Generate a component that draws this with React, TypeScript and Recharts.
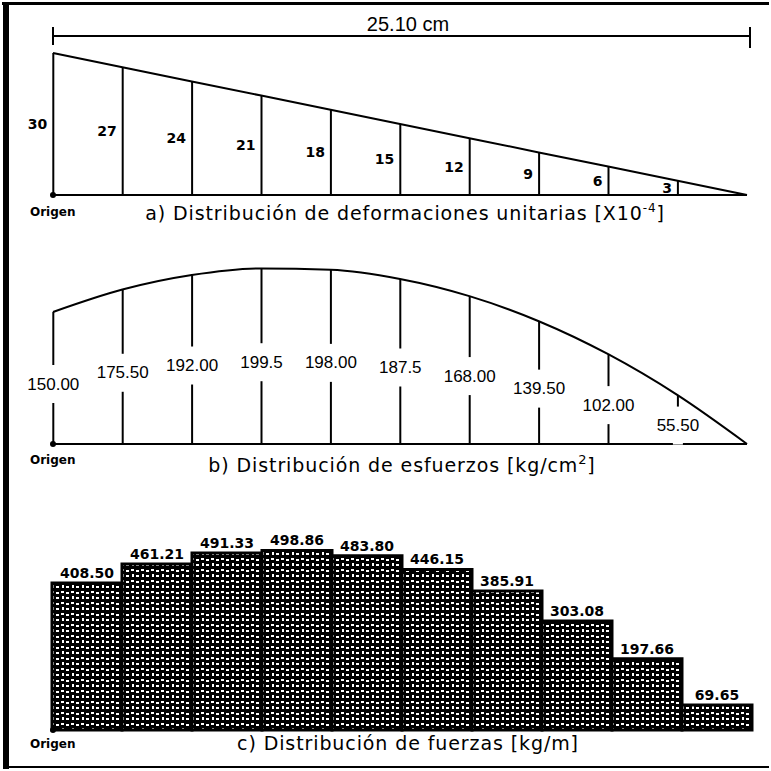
import React from 'react';
import { ComposedChart, Bar, Line, XAxis, YAxis, LabelList, ReferenceLine, ReferenceDot } from 'recharts';

// posiciones a lo largo del peralte (cm)
const positions = [0, 2.51, 5.02, 7.53, 10.04, 12.55, 15.06, 17.57, 20.08, 22.59, 25.1];
// a) deformaciones unitarias x10^-4
const strains = [30, 27, 24, 21, 18, 15, 12, 9, 6, 3, 0];
// b) esfuerzos kg/cm2
const stresses = [150, 175.5, 192, 199.5, 198, 187.5, 168, 139.5, 102, 55.5, 0];
const stressLabels = ['150.00', '175.50', '192.00', '199.5', '198.00', '187.5', '168.00', '139.50', '102.00', '55.50', ''];
// c) fuerzas kg/m
const strips = ['1', '2', '3', '4', '5', '6', '7', '8', '9', '10'];
const forces = [408.5, 461.21, 491.33, 498.86, 483.8, 446.15, 385.91, 303.08, 197.66, 69.65];

const strainData = positions.map((x, i) => ({ x, e: strains[i] }));
const stressData = positions.map((x, i) => ({ x, s: stresses[i], label: stressLabels[i] }));
const forceData = strips.map((k, i) => ({ k, f: forces[i] }));

const W = 771;

function StressLabel(props: any) {
  const { x, y, width, height, value } = props;
  if (!value) return null;
  const cx = x + width / 2;
  const cy = y + height / 2 + 6;
  return (
    <g>
      <rect x={cx - 5} y={cy - 19} width={10} height={38} fill="#fff" />
      <text x={cx} y={cy} textAnchor="middle" dominantBaseline="central"
        style={{ fontFamily: 'Liberation Sans', fontSize: 17, fill: '#000' }}>{value}</text>
    </g>
  );
}

const origenStyle: React.CSSProperties = { fontFamily: 'DejaVu Sans', fontWeight: 'bold', fontSize: 12, fill: '#000' };
const titleStyle: React.CSSProperties = { fontFamily: 'DejaVu Sans', fontSize: 19, letterSpacing: 0.9, fill: '#000' };

export default function App() {
  return (
    <div style={{ position: 'absolute', left: 0, top: 0, width: W, height: W, background: '#fff' }}>
      <svg width={0} height={0} style={{ position: 'absolute' }}>
        <defs>
          <pattern id="stipple" width={10} height={11} patternUnits="userSpaceOnUse">
            <rect width={10} height={11} fill="#000" />
            <rect x={1} y={1} width={3} height={2} fill="#fff" />
            <rect x={6} y={2} width={3} height={2} fill="#fff" />
            <rect x={2} y={6} width={2} height={3} fill="#fff" />
            <rect x={6} y={7} width={3} height={2} fill="#fff" />
          </pattern>
        </defs>
      </svg>

      {/* a) deformaciones */}
      <div style={{ position: 'absolute', left: 0, top: 0 }}>
        <ComposedChart width={W} height={230} data={strainData} margin={{ top: 53, right: 24, bottom: 35, left: 53 }}>
          <XAxis dataKey="x" type="number" domain={[0, 25.1]} hide />
          <YAxis type="number" domain={[0, 30]} hide />
          <ReferenceLine y={0} stroke="#000" strokeWidth={2} />
          <Bar dataKey="e" barSize={2} fill="#000" isAnimationActive={false}>
            <LabelList dataKey="e" position="left" offset={5}
              formatter={(v: any) => (v === 0 ? '' : v)}
              style={{ fontFamily: 'DejaVu Sans', fontWeight: 'bold', fontSize: 14, fill: '#000' }} />
          </Bar>
          <Line dataKey="e" type="linear" stroke="#000" strokeWidth={2} dot={false} isAnimationActive={false} />
          <ReferenceDot x={0} y={0} r={3} fill="#000" stroke="none" />
        </ComposedChart>
      </div>

      {/* b) esfuerzos */}
      <div style={{ position: 'absolute', left: 0, top: 230 }}>
        <ComposedChart width={W} height={250} data={stressData} margin={{ top: 38, right: 24, bottom: 36, left: 53 }}>
          <XAxis dataKey="x" type="number" domain={[0, 25.1]} hide />
          <YAxis type="number" domain={[0, 200]} hide />
          <ReferenceLine y={0} stroke="#000" strokeWidth={2} />
          <Bar dataKey="s" barSize={2} fill="#000" isAnimationActive={false}>
            <LabelList dataKey="label" content={StressLabel} />
          </Bar>
          <Line dataKey="s" type="monotone" stroke="#000" strokeWidth={2} dot={false} isAnimationActive={false} />
          <ReferenceDot x={0} y={0} r={3} fill="#000" stroke="none" />
        </ComposedChart>
      </div>

      {/* c) fuerzas */}
      <div style={{ position: 'absolute', left: 0, top: 480 }}>
        <ComposedChart width={W} height={290} data={forceData} barCategoryGap={0} margin={{ top: 70, right: 19, bottom: 40, left: 52 }}>
          <XAxis dataKey="k" type="category" hide />
          <YAxis type="number" domain={[0, 500]} hide />
          <Bar dataKey="f" fill="url(#stipple)" stroke="#000" strokeWidth={3} isAnimationActive={false}>
            <LabelList dataKey="f" position="top" offset={5}
              formatter={(v: any) => Number(v).toFixed(2)}
              style={{ fontFamily: 'DejaVu Sans', fontWeight: 'bold', fontSize: 14, fill: '#000' }} />
          </Bar>
        </ComposedChart>
      </div>

      {/* rótulos y marco */}
      <svg width={W} height={W} style={{ position: 'absolute', left: 0, top: 0, pointerEvents: 'none' }}>
        <rect x={2} y={2} width={767} height={3} fill="#000" />
        <rect x={3} y={2} width={6} height={767} fill="#000" />
        <rect x={3} y={766} width={766} height={2} fill="#000" />

        <line x1={53} y1={36} x2={750} y2={36} stroke="#000" strokeWidth={2} />
        <line x1={53} y1={27} x2={53} y2={45} stroke="#000" strokeWidth={2} />
        <line x1={750} y1={27} x2={750} y2={48} stroke="#000" strokeWidth={2} />
        <text x={408} y={31} textAnchor="middle" style={{ fontFamily: 'Liberation Sans', fontSize: 20, fill: '#000' }}>25.10 cm</text>

        <text x={30} y={216} style={origenStyle}>Origen</text>
        <text x={405} y={220} textAnchor="middle" style={titleStyle}>
          a) Distribución de deformaciones unitarias [X10<tspan dy={-8} fontSize={12}>-4</tspan><tspan dy={8}>]</tspan>
        </text>

        <text x={30} y={464} style={origenStyle}>Origen</text>
        <text x={402} y={472} textAnchor="middle" style={titleStyle}>
          b) Distribución de esfuerzos [kg/cm<tspan dy={-8} fontSize={13}>2</tspan><tspan dy={8}>]</tspan>
        </text>

        <circle cx={53} cy={730} r={3} fill="#000" />
        <text x={30} y={748} style={origenStyle}>Origen</text>
        <text x={408} y={750} textAnchor="middle" style={titleStyle}>c) Distribución de fuerzas [kg/m]</text>
      </svg>
    </div>
  );
}
